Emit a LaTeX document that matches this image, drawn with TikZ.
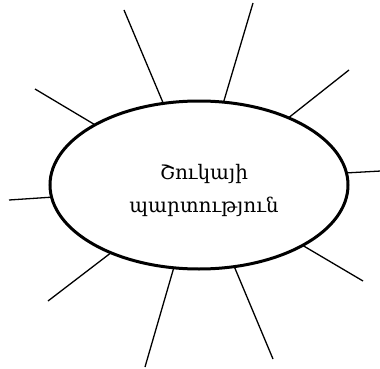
\documentclass[tikz,border=0pt]{standalone}
\usepackage{fontspec}
\setmainfont{DejaVu Serif}
\usetikzlibrary{shapes.geometric}
\begin{document}
\begin{tikzpicture}[x=1pt,y=-1pt,
  ray/.style={line width=1.3pt,black},
  bubble/.style={ellipse,draw=black,line width=3pt,fill=white,minimum width=298pt,minimum height=168pt,inner sep=0pt},
  label/.style={align=center,inner sep=0pt,font=\fontsize{20}{33}\selectfont}]
\useasboundingbox (0,0) rectangle (380,369);
% outer ends
\coordinate (o1) at (124,10);
\coordinate (o2) at (253,3);
\coordinate (o3) at (349,70);
\coordinate (o4) at (381,171);
\coordinate (o5) at (363,281);
\coordinate (o6) at (273,359);
\coordinate (o7) at (145,367);
\coordinate (o8) at (48,301);
\coordinate (o9) at (9,200);
\coordinate (o10) at (35,89);
% inner ends
\coordinate (i1) at (164,105);
\coordinate (i2) at (223,104);
\coordinate (i3) at (287,119);
\coordinate (i4) at (345,173);
\coordinate (i5) at (302,245);
\coordinate (i6) at (234,266);
\coordinate (i7) at (174,267);
\coordinate (i8) at (112,252);
\coordinate (i9) at (54,197);
\coordinate (i10) at (97,126);
\foreach \k in {1,...,10} \draw[ray] (o\k) -- (i\k);
\node[bubble] (e) at (199,185) {};
\node[label] (t) at (204,190) {Շուկայի\\պարտություն};
\end{tikzpicture}
\end{document}
